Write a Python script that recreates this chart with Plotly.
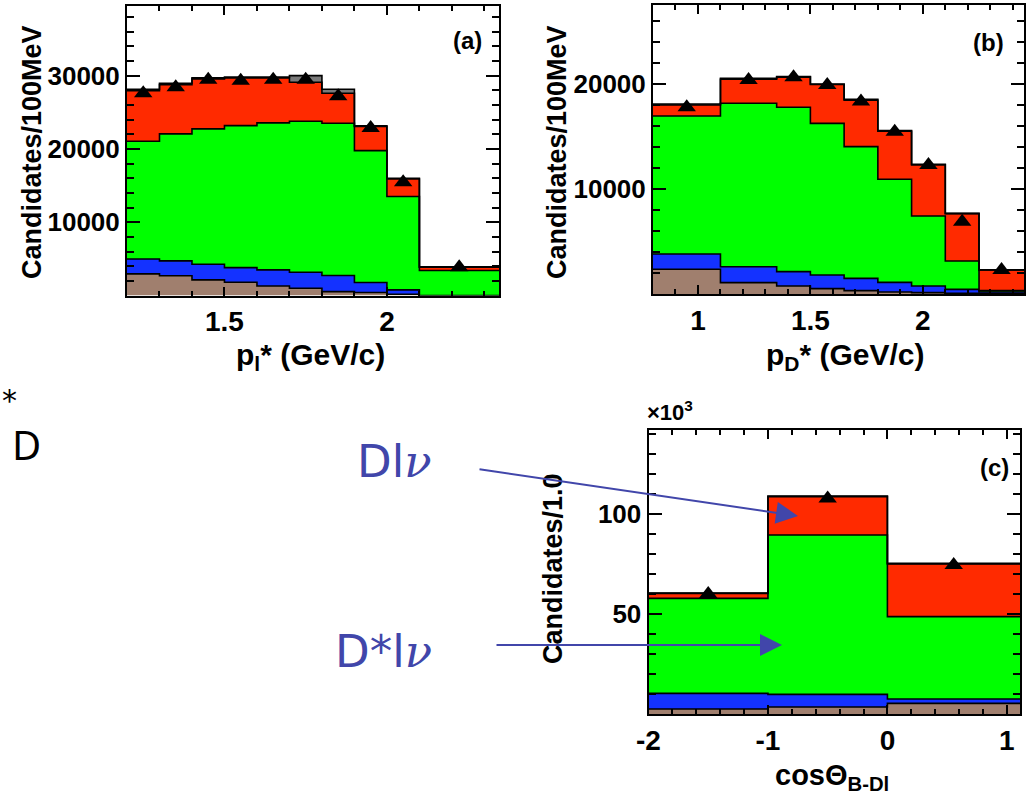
import numpy as np
import plotly.graph_objects as go

W, H = 1026, 799

# ---------------- data ----------------
# (a) lepton momentum p_l*
a_edges = [1.2, 1.3, 1.4, 1.5, 1.6, 1.7, 1.8, 1.9, 2.0, 2.1, 2.345]
a_brown = [2950, 2700, 2130, 1810, 1300, 990, 530, 400, 180, 0]
a_blue = [2040, 2020, 2140, 2000, 2190, 2190, 2190, 1370, 590, 0]
a_green = [16060, 17330, 18460, 19370, 20060, 20590, 20780, 18000, 12730, 3410]
a_red = [6900, 6720, 6820, 6500, 6130, 5330, 4100, 3280, 2400, 450]
a_gray = [200, 180, 150, 120, 120, 900, 550, 100, 100, 40]
a_data = [27590, 28400, 29450, 29300, 29450, 29450, 27180, 22860, 15450, 3860]

# (b) D momentum p_D*
b_edges = [0.8, 1.1, 1.35, 1.5, 1.65, 1.8, 1.95, 2.1, 2.25, 2.45]
b_brown = [2350, 1080, 760, 510, 320, 190, 130, 60, 20]
b_blue = [1460, 1520, 1370, 1300, 1170, 920, 630, 380, 170]
b_green = [13140, 15560, 15650, 14440, 12540, 9810, 6670, 2700, 130]
b_red = [1050, 2290, 2870, 3700, 4420, 4580, 4870, 4510, 1970]
b_gray = [95, 90, 50, 50, 90, 55, 50, 30, 10]
b_data = [17780, 20380, 20630, 19900, 18320, 15460, 12290, 6890, 2290]

# (c) cos(theta_B-Dl), in units of 10^3
c_edges = [-2.0, -1.0, 0.0, 1.11]
c_brown = [2.5, 3.5, 5.3]
c_blue = [7.8, 6.3, 2.2]
c_green = [47.5, 79.7, 41.2]
c_red = [2.5, 19.2, 26.3]
c_gray = [0.2, 0.3, 0.3]
c_data = [60.0, 107.8, 74.5]

layer_colors = ["#A07F6E", "#1432FF", "#00FF00", "#FF2A00", "#7A7A7A"]

FONT = "Liberation Sans"


def px_x(x):
    return x / W


def px_y(y):
    return 1 - y / H


fig = go.Figure()


def add_stack(edges, layers, data, xa, ya):
    cum = np.zeros(len(layers[0]))
    for i, (vals, col) in enumerate(zip(layers, layer_colors)):
        cum = cum + np.asarray(vals, dtype=float)
        ys = np.append(cum, cum[-1])
        fig.add_trace(go.Scatter(
            x=edges, y=ys, mode="lines", line=dict(shape="hv", color="black", width=1.6),
            fill="tozeroy" if i == 0 else "tonexty", fillcolor=col,
            xaxis=xa, yaxis=ya, showlegend=False, hoverinfo="skip"))
    e = np.asarray(edges)
    centers = (e[:-1] + e[1:]) / 2
    fig.add_trace(go.Scatter(
        x=centers, y=data, mode="markers",
        marker=dict(symbol="triangle-up", size=16, color="black"),
        xaxis=xa, yaxis=ya, showlegend=False))


add_stack(a_edges, [a_brown, a_blue, a_green, a_red, a_gray], a_data, "x", "y")
add_stack(b_edges, [b_brown, b_blue, b_green, b_red, b_gray], b_data, "x2", "y2")
add_stack(c_edges, [c_brown, c_blue, c_green, c_red, c_gray], c_data, "x3", "y3")

common = dict(showline=True, mirror="allticks", linecolor="black", linewidth=2,
              ticks="inside", tickcolor="black", tickwidth=2, showgrid=False,
              zeroline=False, fixedrange=True, automargin=False)
xfont = dict(family=FONT, size=28, color="black", weight="bold")
yfont = dict(family=FONT, size=26, color="black", weight="bold")


def xaxis(dom, rng, tv, tt, minor_dt, tick0):
    return dict(common, domain=[px_x(dom[0]), px_x(dom[1])], range=rng,
                tickmode="array", tickvals=tv, ticktext=tt, ticklen=9,
                tickfont=xfont, ticklabelstandoff=0,
                minor=dict(ticks="inside", dtick=minor_dt, tick0=tick0, ticklen=5,
                           tickwidth=1.5, tickcolor="black", showgrid=False))


def yaxis(dom, rng, tv, tt, minor_dt, anchor):
    return dict(common, domain=[px_y(dom[1]), px_y(dom[0])], range=rng, anchor=anchor,
                tickmode="array", tickvals=tv, ticktext=tt, ticklen=13,
                tickfont=yfont, ticklabelstandoff=0,
                minor=dict(ticks="inside", dtick=minor_dt, tick0=0, ticklen=7,
                           tickwidth=1.5, tickcolor="black", showgrid=False))


fig.update_layout(
    width=W, height=H, margin=dict(l=0, r=0, t=0, b=0, autoexpand=False),
    paper_bgcolor="white", plot_bgcolor="white",
    xaxis=xaxis((127, 499), [1.2, 2.345], [1.5, 2.0], ["1.5", "2"], 0.1, 1.2),
    yaxis=yaxis((6, 295.5), [0, 39500], [10000, 20000, 30000],
                ["10000", "20000", "30000"], 2000, "x"),
    xaxis2=xaxis((653, 1024), [0.8, 2.45], [1.0, 1.5, 2.0], ["1", "1.5", "2"], 0.1, 0.8),
    yaxis2=yaxis((5, 294), [0, 27520], [10000, 20000], ["10000", "20000"], 2000, "x2"),
    xaxis3=xaxis((648.5, 1020), [-2, 1.11], [-2, -1, 0, 1], ["-2", "-1", "0", "1"], 0.2, -2),
    yaxis3=yaxis((430, 714), [0, 142], [50, 100], ["50", "100"], 10, "x3"),
)
fig.layout.xaxis.anchor = "y"
fig.layout.xaxis2.anchor = "y2"
fig.layout.xaxis3.anchor = "y3"

ann = []


def text(x, y, s, size, color="black", family=FONT, weight="normal", angle=0,
         xanchor="center", yanchor="middle"):
    ann.append(dict(x=px_x(x), y=px_y(y), xref="paper", yref="paper", text=s,
                    showarrow=False, textangle=angle, xanchor=xanchor, yanchor=yanchor,
                    font=dict(family=family, size=size, color=color, weight=weight)))


# axis titles
text(32, 152, "Candidates/100MeV", 27, weight="bold", angle=-90)
text(557, 152, "Candidates/100MeV", 27, weight="bold", angle=-90)
text(553, 569, "Candidates/1.0", 27, weight="bold", angle=-90)
text(310, 356, "p<sub>l</sub>* (GeV/c)", 30, weight="bold")
text(845, 356, "p<sub>D</sub>* (GeV/c)", 30, weight="bold")
text(832, 777, "cosΘ<sub>B-Dl</sub>", 29, weight="bold")
text(645, 427, "×10<sup>3</sup>", 22, weight="bold", xanchor="left", yanchor="bottom")

# panel tags
text(467, 40, "(a)", 24, weight="bold")
text(988, 42, "(b)", 24, weight="bold")
text(994, 467, "(c)", 24, weight="bold")

# slide labels
BLUE = "#4146AA"
nu = "<span style=\"font-family:'DejaVu Serif'\"><i>ν</i></span>"
text(355, 461, "Dl" + nu, 45, color=BLUE, family="DejaVu Sans", xanchor="left")
text(333, 651, "D*l" + nu, 45, color=BLUE, family="DejaVu Sans", xanchor="left")
text(0, 401, "*", 30, family="DejaVu Sans", xanchor="left")
text(10, 444, "D", 40, family="Noto Sans", xanchor="left")


def arrow(x0, y0, x1, y1):
    ann.append(dict(x=px_x(x1), y=px_y(y1), xref="paper", yref="paper",
                    ax=x0 - x1, ay=y0 - y1, axref="pixel", ayref="pixel",
                    showarrow=True, arrowhead=2, arrowsize=2.2, arrowwidth=2,
                    arrowcolor=BLUE, text=""))


arrow(478, 469, 798, 516)
arrow(495, 645, 782, 645)

fig.update_layout(annotations=ann)

fig.write_html("out.html")
